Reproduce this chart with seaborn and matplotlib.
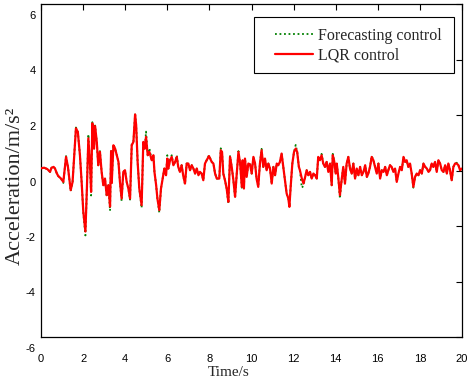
import numpy as np
import pandas as pd
import matplotlib
matplotlib.use("Agg")
import matplotlib.pyplot as plt
import matplotlib.transforms as mtransforms
from matplotlib.patches import Rectangle
import seaborn as sns

# ---------------- data ----------------
TIME = [0.00, 0.15, 0.30, 0.43, 0.50, 0.60, 0.665, 0.75, 0.82, 0.95, 1.06, 1.12, 1.19, 1.28, 1.41, 1.50,
        1.58, 1.66, 1.75, 1.85, 1.93, 2.01, 2.11, 2.18, 2.25, 2.33, 2.38, 2.44, 2.52, 2.57, 2.65, 2.72,
        2.80, 2.88, 2.96, 3.04, 3.12, 3.20, 3.28, 3.33, 3.36, 3.44, 3.52, 3.60, 3.68, 3.75, 3.83, 3.91,
        3.99, 4.07, 4.15, 4.23, 4.31, 4.39, 4.47, 4.52, 4.59, 4.67, 4.78, 4.86, 4.93, 4.99, 5.07, 5.15,
        5.26, 5.34, 5.39, 5.47, 5.53, 5.62, 5.70, 5.78, 5.86, 5.94, 6.00, 6.05, 6.13, 6.21, 6.29, 6.37,
        6.45, 6.52, 6.60, 6.68, 6.76, 6.84, 6.92, 7.00, 7.08, 7.16, 7.24, 7.32, 7.40, 7.48, 7.55, 7.63,
        7.71, 7.79, 7.87, 7.98, 8.11, 8.19, 8.27, 8.35, 8.47, 8.54, 8.60, 8.66, 8.74, 8.82, 8.90, 8.98,
        9.06, 9.14, 9.22, 9.30, 9.38, 9.46, 9.54, 9.58, 9.64, 9.69, 9.77, 9.85, 9.93, 10.01, 10.09, 10.17,
        10.24, 10.32, 10.40, 10.48, 10.56, 10.64, 10.72, 10.80, 10.88, 10.96, 11.04, 11.12, 11.20, 11.27,
        11.35, 11.43, 11.51, 11.59, 11.67, 11.75, 11.80, 11.86, 11.94, 12.02, 12.10, 12.17, 12.25, 12.30,
        12.39, 12.47, 12.55, 12.62, 12.70, 12.78, 12.86, 12.94, 13.02, 13.10, 13.17, 13.25, 13.33, 13.41,
        13.49, 13.57, 13.65, 13.73, 13.81, 13.86, 13.92, 14.00, 14.05, 14.12, 14.20, 14.28, 14.36, 14.44,
        14.52, 14.60, 14.68, 14.76, 14.84, 14.92, 15.00, 15.08, 15.16, 15.24, 15.32, 15.40, 15.48, 15.55,
        15.63, 15.71, 15.79, 15.87, 15.95, 16.03, 16.11, 16.19, 16.27, 16.35, 16.43, 16.50, 16.58, 16.66,
        16.74, 16.82, 16.90, 16.98, 17.06, 17.14, 17.22, 17.30, 17.37, 17.45, 17.53, 17.61, 17.69, 17.77,
        17.85, 17.93, 18.01, 18.09, 18.17, 18.25, 18.33, 18.41, 18.48, 18.56, 18.64, 18.72, 18.80, 18.88,
        18.96, 19.04, 19.12, 19.20, 19.28, 19.35, 19.43, 19.51, 19.59, 19.67, 19.75, 19.83, 19.91, 19.99]

LQR = [0.08, 0.10, 0.05, -0.05, 0.10, 0.13, 0.07, -0.10, -0.20, -0.29, -0.41, 0.00, 0.49, 0.13, -0.71, -0.41,
       0.55, 1.52, 1.39, 0.55, -0.41, -1.49, -2.20, -0.65, 1.16, 0.19, -0.77, 1.70, 0.79, 1.60, 1.03, 0.19,
       0.67, -0.05, -0.53, -0.29, -0.89, -0.53, -1.30, 0.70, -0.45, 0.91, 0.79, 0.55, 0.31, -0.41, -1.01, -0.05,
       0.01, -0.41, -0.65, -1.01, 0.91, 1.03, 2.02, 1.64, 0.31, -0.65, -1.25, 1.03, 0.79, 1.21, 0.55, 0.67,
       0.37, 0.55, -0.05, -0.53, -1.01, -1.43, -0.65, -0.29, 0.07, -0.17, 0.43, 0.07, 0.37, 0.49, 0.19, 0.31,
       0.49, 0.13, -0.05, 0.19, -0.20, -0.47, 0.25, 0.25, 0.01, 0.19, 0.07, -0.11, 0.07, -0.17, -0.05, -0.11,
       -0.35, 0.25, 0.37, 0.52, 0.31, 0.25, -0.11, -0.29, -0.29, 0.73, 0.67, -0.11, -0.35, -0.65, -1.13, 0.49,
       0.13, -0.35, -0.95, -0.11, 0.67, 0.25, -0.59, 0.37, -0.65, 0.43, -0.23, 0.25, 0.22, -0.11, 0.49, 0.25,
       -0.29, -0.59, 0.25, 0.73, 0.13, 0.43, 0.01, 0.25, 0.07, -0.47, 0.13, -0.17, 0.25, 0.19,
       0.31, 0.61, 0.13, -0.35, -0.83, -1.01, -1.31, -0.59, 0.25, 0.67, 0.79, 0.67, 0.13, 0.01,
       -0.29, -0.47, -0.23, 0.01, -0.17, -0.05, -0.29, -0.11, -0.17, -0.29, 0.49, 0.37, 0.55, 0.25,
       0.13, 0.31, -0.05, 0.25, -0.53, 0.55, 0.37, -0.11, 0.25, -0.23, -0.89, -0.35, 0.13, -0.47,
       0.25, 0.49, 0.07, -0.11, 0.25, -0.29, 0.07, -0.17, 0.13, -0.17, -0.05, 0.19, -0.23, -0.11,
       0.13, 0.49, 0.37, 0.13, -0.11, 0.25, -0.29, 0.01, -0.05, 0.13, -0.17, 0.01, 0.19, 0.13,
       -0.05, 0.07, -0.41, -0.11, 0.13, 0.01, 0.49, 0.31, 0.37, 0.13, 0.25, -0.11, -0.59, -0.23,
       -0.11, -0.17, 0.01, -0.11, 0.25, 0.13, 0.07, -0.05, 0.01, 0.25, 0.13, 0.31, -0.05, 0.37,
       0.25, 0.01, -0.05, 0.19, -0.11, 0.25, 0.01, -0.35, 0.13, 0.25, 0.25, 0.19, 0.01, 0.07]

FORECAST = [0.08, 0.10, 0.05, -0.05, 0.10, 0.13, 0.07, -0.10, -0.20, -0.29, -0.45, 0.00, 0.52, 0.13, -0.75, -0.41,
            0.55, 1.55, 1.39, 0.55, -0.41, -1.52, -2.34, -0.65, 1.30, 0.19, -0.90, 1.74, 0.79, 1.62, 1.03, 0.19,
            0.70, -0.05, -0.55, -0.29, -0.95, -0.53, -1.45, 0.70, -0.45, 0.93, 0.79, 0.55, 0.31, -0.41, -1.10, -0.05,
            0.01, -0.41, -0.65, -1.05, 0.95, 1.03, 2.02, 1.64, 0.31, -0.65, -1.35, 1.05, 0.79, 1.40, 0.55, 0.80,
            0.37, 0.55, -0.05, -0.53, -1.01, -1.52, -0.65, -0.29, 0.07, -0.17, 0.55, 0.07, 0.37, 0.55, 0.19, 0.31,
            0.55, 0.13, -0.05, 0.19, -0.20, -0.50, 0.25, 0.25, 0.01, 0.19, 0.07, -0.11, 0.07, -0.17, -0.05, -0.11,
            -0.35, 0.25, 0.37, 0.55, 0.31, 0.25, -0.11, -0.29, -0.29, 0.80, 0.67, -0.11, -0.35, -0.65, -1.20, 0.52,
            0.13, -0.35, -1.00, -0.11, 0.70, 0.25, -0.62, 0.37, -0.65, 0.45, -0.23, 0.25, 0.22, -0.11, 0.49, 0.25,
            -0.29, -0.59, 0.25, 0.78, 0.13, 0.43, 0.01, 0.25, 0.07, -0.47, 0.13, -0.17, 0.25, 0.19,
            0.31, 0.61, 0.13, -0.35, -0.83, -1.01, -1.28, -0.59, 0.25, 0.67, 0.92, 0.67, 0.13, 0.01,
            -0.62, -0.55, -0.23, 0.01, -0.17, -0.05, -0.29, -0.11, -0.17, -0.29, 0.49, 0.37, 0.60, 0.25,
            0.13, 0.31, -0.05, 0.25, -0.53, 0.60, 0.37, -0.11, 0.25, -0.23, -1.00, -0.35, 0.13, -0.47,
            0.25, 0.49, 0.07, -0.11, 0.25, -0.29, 0.07, -0.17, 0.13, -0.17, -0.05, 0.19, -0.23, -0.11,
            0.13, 0.52, 0.37, 0.13, -0.11, 0.25, -0.29, 0.01, -0.05, 0.13, -0.17, 0.01, 0.19, 0.13,
            -0.05, 0.07, -0.41, -0.11, 0.13, 0.01, 0.49, 0.31, 0.37, 0.13, 0.25, -0.11, -0.62, -0.23,
            -0.11, -0.17, 0.01, -0.11, 0.25, 0.13, 0.07, -0.05, 0.01, 0.25, 0.13, 0.31, -0.05, 0.37,
            0.25, 0.01, -0.05, 0.19, -0.11, 0.25, 0.01, -0.38, 0.13, 0.25, 0.28, 0.19, 0.01, 0.07]

SERIES = ["Forecasting control", "LQR control"]
X_TICKS = [0, 2, 4, 6, 8, 10, 12, 14, 16, 18, 20]
Y_TICKS = [-6, -4, -2, 0, 2, 4, 6]
X_LABEL = "Time/s"
Y_LABEL = "Acceleration/m/s\u00b2"

# ---------------- style ----------------
sns.set_style("white")
plt.rcParams["font.family"] = ["Liberation Sans", "DejaVu Sans"]
SERIF = ["Liberation Serif", "DejaVu Serif"]

df = pd.DataFrame({
    "t": TIME * 2,
    "a": FORECAST + LQR,
    "series": [SERIES[0]] * len(TIME) + [SERIES[1]] * len(TIME),
})

fig = plt.figure(figsize=(4.69, 3.84), dpi=100)
ax = fig.add_axes([41 / 469, 47 / 384, 421 / 469, 333 / 384])

sns.lineplot(data=df[df.series == SERIES[0]], x="t", y="a", ax=ax, color="#008000",
             linestyle=(0, (1, 1.5)), linewidth=1.3, label=SERIES[0], zorder=2, estimator=None, sort=False)
sns.lineplot(data=df[df.series == SERIES[1]], x="t", y="a", ax=ax, color="#ff0000",
             linewidth=1.6, label=SERIES[1], zorder=3, estimator=None, sort=False)

ax.set_xlim(0, 20)
ax.set_ylim(-6, 6)
ax.set_xticks(X_TICKS)
ax.set_yticks(Y_TICKS)
ax.set_xticklabels([str(v) for v in X_TICKS])
ax.set_yticklabels([str(v) for v in Y_TICKS])

ax.tick_params(axis="both", direction="in", length=4, width=0.8, labelsize=8, colors="black",
               top=True, right=True)
ax.tick_params(axis="x", pad=12)
ax.tick_params(axis="y", pad=4)
for sp in ax.spines.values():
    sp.set_color("black")
    sp.set_linewidth(0.9)

# MATLAB-like downward offset of y tick labels
offset = mtransforms.ScaledTranslation(0, -11 / 100, fig.dpi_scale_trans)
for lab in ax.get_yticklabels():
    lab.set_transform(lab.get_transform() + offset)

ax.set_xlabel(X_LABEL, family=SERIF, fontsize=11)
ax.xaxis.set_label_coords((229 - 41) / 421, -0.088)
ax.set_ylabel(Y_LABEL, family=SERIF, fontsize=16)
ax.yaxis.set_label_coords(-0.038, 0.453)

# legend frame + entries
ax.add_patch(Rectangle((0.506, 0.793), 0.475, 0.168, transform=ax.transAxes, fill=True,
                       facecolor="white", edgecolor="black", linewidth=0.8, zorder=5))
leg = ax.legend(loc="upper left", bbox_to_anchor=(0.556, 0.928), frameon=False,
                prop={"family": SERIF, "size": 11.5},
                handlelength=2.4, handletextpad=0.3, borderpad=0, labelspacing=0.2,
                borderaxespad=0)
leg.set_zorder(6)

fig.savefig("out.png", dpi=100, facecolor="white")
